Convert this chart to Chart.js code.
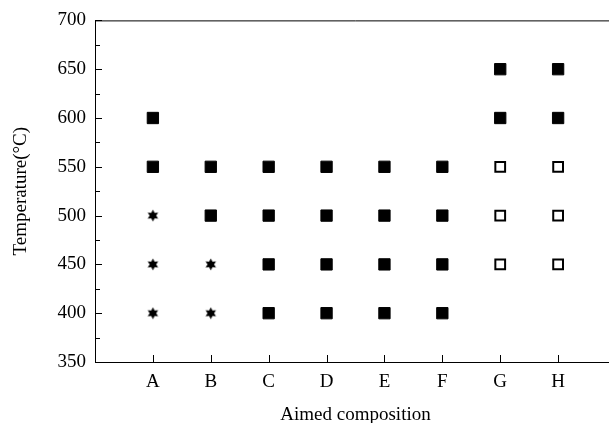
<!DOCTYPE html>
<html>
<head>
<meta charset="utf-8">
<script src="https://cdn.jsdelivr.net/npm/chart.js@4/dist/chart.umd.min.js"></script>
<style>
  html, body { margin: 0; padding: 0; background: #fff; overflow: hidden; }
  #wrap { width: 625px; height: 423px; position: relative; }
</style>
</head>
<body>
<div id="wrap"><canvas id="chart"></canvas></div>
<script>
// data
const categories = ['A', 'B', 'C', 'D', 'E', 'F', 'G', 'H'];
const yTicks = [350, 400, 450, 500, 550, 600, 650, 700];

// filled squares
const filledCat  = ['A', 'A', 'B', 'B', 'C', 'C', 'C', 'C', 'D', 'D', 'D', 'D', 'E', 'E', 'E', 'E', 'F', 'F', 'F', 'F', 'G', 'G', 'H', 'H'];
const filledTemp = [550, 600, 500, 550, 400, 450, 500, 550, 400, 450, 500, 550, 400, 450, 500, 550, 400, 450, 500, 550, 600, 650, 600, 650];

// open squares
const openCat  = ['G', 'G', 'G', 'H', 'H', 'H'];
const openTemp = [450, 500, 550, 450, 500, 550];

// stars
const starCat  = ['A', 'A', 'A', 'B', 'B'];
const starTemp = [400, 450, 500, 400, 450];

const toPoints = (cats, temps) => cats.map((c, i) => ({ x: categories.indexOf(c) + 1, y: temps[i] }));

// six pointed star marker
function makeStar(size) {
  const c = document.createElement('canvas');
  c.width = size; c.height = size;
  const g = c.getContext('2d');
  const cx = size / 2, cy = size / 2, R = size / 2 - 0.5, r = R * 0.55;
  g.beginPath();
  for (let i = 0; i < 12; i++) {
    const a = -Math.PI / 2 + i * Math.PI / 6;
    const rad = i % 2 === 0 ? R : r;
    const px = cx + rad * Math.cos(a), py = cy + rad * Math.sin(a);
    if (i === 0) g.moveTo(px, py); else g.lineTo(px, py);
  }
  g.closePath();
  g.fillStyle = '#000';
  g.fill();
  return c;
}
const starImg = makeStar(13);

// inward ticks, minor ticks and the top line
const axisDecor = {
  id: 'axisDecor',
  afterDraw(chart) {
    const ctx = chart.ctx;
    const { left, top, right, bottom } = chart.chartArea;
    const ys = chart.scales.y, xs = chart.scales.x;
    ctx.save();
    ctx.strokeStyle = '#000';
    ctx.lineWidth = 1;
    ctx.beginPath();
    // top line
    ctx.moveTo(left, top + 0.5);
    ctx.lineTo(right, top + 0.5);
    // y ticks
    for (let v = 350; v <= 700; v += 25) {
      const py = Math.round(ys.getPixelForValue(v)) + 0.5;
      const len = v % 50 === 0 ? 7 : 5;
      ctx.moveTo(left, py);
      ctx.lineTo(left + len, py);
    }
    // x ticks
    categories.forEach((c, i) => {
      const px = Math.round(xs.getPixelForValue(i + 1)) + 0.5;
      ctx.moveTo(px, bottom);
      ctx.lineTo(px, bottom - 7);
    });
    ctx.stroke();
    ctx.restore();
  }
};

const serif = 'Liberation Serif, Times New Roman, serif';

new Chart(document.getElementById('chart'), {
  type: 'scatter',
  data: {
    datasets: [
      {
        label: 'filled',
        data: toPoints(filledCat, filledTemp),
        pointStyle: 'rect',
        pointRadius: 8,
        backgroundColor: '#000',
        borderColor: '#000',
        borderWidth: 1
      },
      {
        label: 'open',
        data: toPoints(openCat, openTemp),
        pointStyle: 'rect',
        pointRadius: 6.9,
        backgroundColor: '#fff',
        borderColor: '#000',
        borderWidth: 2
      },
      {
        label: 'star',
        data: toPoints(starCat, starTemp),
        pointStyle: starImg,
        pointRadius: 6
      }
    ]
  },
  options: {
    responsive: true,
    maintainAspectRatio: false,
    animation: false,
    layout: { padding: { left: 0, top: 20, right: 8, bottom: 0 } },
    plugins: {
      legend: { display: false },
      tooltip: { enabled: false }
    },
    scales: {
      x: {
        type: 'linear',
        min: 0,
        max: 9,
        afterFit(scale) { scale.height = 61; },
        afterBuildTicks(scale) {
          scale.ticks = categories.map((c, i) => ({ value: i + 1 }));
        },
        ticks: {
          autoSkip: false,
          maxRotation: 0,
          padding: 9,
          color: '#000',
          font: { family: serif, size: 19 },
          callback: (v) => categories[v - 1] || ''
        },
        grid: { display: false, drawTicks: false },
        border: { display: true, color: '#000', width: 1 },
        title: {
          display: true,
          text: 'Aimed composition',
          color: '#000',
          font: { family: serif, size: 19 },
          padding: { top: 4, bottom: -3 }
        }
      },
      y: {
        min: 350,
        max: 700,
        afterFit(scale) { scale.width = 95; },
        afterBuildTicks(scale) {
          scale.ticks = yTicks.map(v => ({ value: v }));
        },
        ticks: {
          padding: 9,
          color: '#000',
          font: { family: serif, size: 19 }
        },
        grid: { display: false, drawTicks: false },
        border: { display: true, color: '#000', width: 1 },
        title: {
          display: true,
          text: 'Temperature(\u00B0C)',
          color: '#000',
          font: { family: serif, size: 19 },
          padding: { top: 10, bottom: 4 }
        }
      }
    }
  },
  plugins: [axisDecor]
});
</script>
</body>
</html>
